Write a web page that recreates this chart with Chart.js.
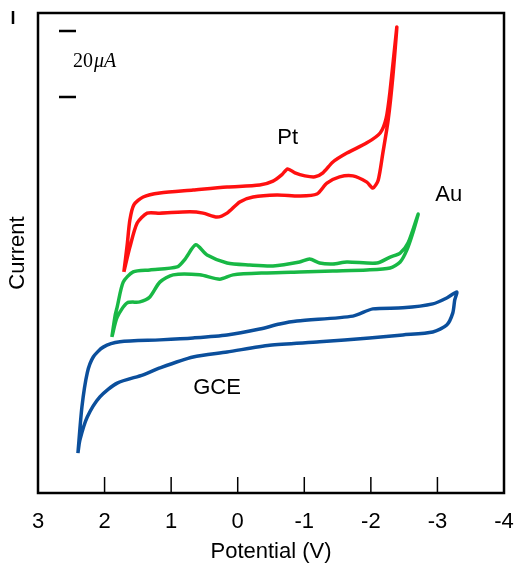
<!DOCTYPE html>
<html>
<head>
<meta charset="utf-8">
<script src="https://cdn.jsdelivr.net/npm/chart.js@4.4.1/dist/chart.umd.min.js"></script>
<style>
  html, body { margin: 0; padding: 0; background: #fff; }
  canvas { display: block; }
</style>
</head>
<body>
<canvas id="cvChart" width="516" height="571"></canvas>
<script>
// Voltametrias ciclicas: Pt, Au y GCE (corriente en uA)
var xTicks = [3, 2, 1, 0, -1, -2, -3, -4];

var ptPotential = [1.71, 1.66, 1.62, 1.56, 1.42, 1.17, 0.67, 0.16, -0.33, -0.53, -0.66, -0.75, -0.86, -1.01, -1.16, -1.28, -1.43, -1.64, -1.94, -2.14, -2.23, -2.29, -2.39,
                   -2.33, -2.26, -2.18, -2.11, -2.03, -1.94, -1.73, -1.53, -1.34, -1.19, -0.93, -0.59, -0.23, -0.03, 0.16, 0.31, 0.52, 0.72, 1.17, 1.36, 1.51, 1.62, 1.71];
var ptCurrent = [67.0, 75.2, 82.7, 87.3, 89.7, 90.9, 91.8, 92.7, 93.3, 94.5, 96.4, 98.2, 97.0, 96.1, 95.8, 97.0, 100.3, 103.0, 106.1, 109.1, 113.6, 122.1, 141.2,
                 126.1, 113.0, 103.0, 94.8, 92.4, 94.2, 96.1, 95.8, 93.9, 90.6, 90.0, 90.3, 89.7, 88.2, 84.8, 83.6, 84.8, 85.2, 84.8, 84.8, 81.8, 74.5, 67.0];

var auPotential = [1.89, 1.84, 1.81, 1.72, 1.57, 1.32, 0.91, 0.79, 0.63, 0.46, 0.16, -0.18, -0.53, -0.93, -1.08, -1.23, -1.43, -1.64, -2.09, -2.29, -2.44, -2.56, -2.71,
                   -2.63, -2.54, -2.44, -2.29, -1.94, -1.43, -0.93, -0.44, 0.07, 0.27, 0.57, 0.97, 1.17, 1.32, 1.47, 1.66, 1.81, 1.89];
var auCurrent = [47.3, 53.9, 56.4, 63.9, 67.0, 67.6, 68.5, 70.9, 75.2, 72.1, 69.7, 69.1, 68.8, 70.0, 70.9, 69.7, 69.4, 70.0, 69.7, 71.5, 72.7, 75.8, 84.5,
                 78.8, 73.6, 70.0, 68.2, 67.6, 67.3, 67.0, 66.7, 66.1, 64.8, 66.1, 66.1, 63.9, 59.4, 57.9, 57.6, 53.3, 47.3];

var gcePotential = [2.40, 2.34, 2.26, 2.17, 2.02, 1.77, 1.17, 0.67, 0.16, -0.33, -0.63, -0.89, -1.73, -2.03, -2.48, -2.93, -3.14, -3.29,
                    -3.26, -3.23, -3.14, -2.93, -2.48, -1.98, -1.23, -0.48, 0.16, 0.67, 1.17, 1.42, 1.81, 2.07, 2.26, 2.37, 2.40];
var gceCurrent = [12.1, 26.1, 36.4, 41.2, 44.2, 45.8, 46.4, 47.0, 47.9, 49.7, 51.2, 52.1, 53.6, 55.8, 56.1, 57.3, 59.1, 60.9,
                  58.5, 54.5, 50.9, 48.8, 47.9, 47.0, 45.8, 44.8, 42.7, 41.2, 37.9, 35.8, 33.3, 29.1, 23.0, 16.1, 12.1];

function toPoints(xs, ys) {
    return xs.map(function (x, i) { return { x: x, y: ys[i] }; });
}

var fontSans = '"Liberation Sans", Arial, sans-serif';

var decoPlugin = {
    id: 'deco',
    afterDraw: function (chart) {
        var ctx = chart.ctx, a = chart.chartArea, sx = chart.scales.x, sy = chart.scales.y;
        ctx.save();
        // marco
        ctx.strokeStyle = '#000';
        ctx.lineWidth = 2.5;
        ctx.strokeRect(a.left, a.top, a.right - a.left, a.bottom - a.top);
        // marcas internas del eje x
        ctx.lineWidth = 1.5;
        xTicks.forEach(function (t) {
            var px = sx.getPixelForValue(t);
            if (px <= a.left + 2 || px >= a.right - 2) return;
            ctx.beginPath();
            ctx.moveTo(px, a.bottom);
            ctx.lineTo(px, a.bottom - 16);
            ctx.stroke();
        });
        // marca suelta arriba a la izquierda
        ctx.lineWidth = 2.5;
        ctx.beginPath();
        ctx.moveTo(13, 11);
        ctx.lineTo(13, 24);
        ctx.stroke();
        // barra de escala 20 uA
        var y1 = sy.getPixelForValue(140), y2 = sy.getPixelForValue(120);
        ctx.lineWidth = 2.5;
        ctx.beginPath();
        ctx.moveTo(59, y1); ctx.lineTo(76, y1);
        ctx.moveTo(59, y2); ctx.lineTo(76, y2);
        ctx.stroke();
        ctx.fillStyle = '#000';
        ctx.textBaseline = 'alphabetic';
        ctx.textAlign = 'left';
        ctx.font = '20px "Liberation Serif", "Times New Roman", serif';
        ctx.fillText('20', 73, 67);
        var w = ctx.measureText('20').width;
        ctx.font = 'italic 20px "Liberation Serif", "Times New Roman", serif';
        ctx.fillText('\u03bcA', 73 + w + 1, 67);
        // etiquetas de las curvas
        ctx.font = '22px ' + fontSans;
        ctx.textAlign = 'center';
        ctx.textBaseline = 'middle';
        ctx.fillText('Pt', sx.getPixelForValue(-0.75), sy.getPixelForValue(107.6));
        ctx.fillText('Au', sx.getPixelForValue(-3.17), sy.getPixelForValue(90.3));
        ctx.fillText('GCE', sx.getPixelForValue(0.31), sy.getPixelForValue(31.8));
        ctx.restore();
    }
};

var chart = new Chart(document.getElementById('cvChart'), {
    type: 'scatter',
    data: {
        datasets: [{
            label: 'Pt',
            data: toPoints(ptPotential, ptCurrent),
            borderColor: '#ff1010'
        }, {
            label: 'Au',
            data: toPoints(auPotential, auCurrent),
            borderColor: '#18b845'
        }, {
            label: 'GCE',
            data: toPoints(gcePotential, gceCurrent),
            borderColor: '#0b4f9c'
        }]
    },
    options: {
        responsive: false,
        animation: false,
        devicePixelRatio: 1,
        layout: { padding: { top: 13, right: 12, left: 0, bottom: 0 } },
        elements: {
            line: { borderWidth: 3.5, tension: 0.25, fill: false },
            point: { radius: 0, hoverRadius: 0 }
        },
        datasets: { scatter: { showLine: true } },
        plugins: { legend: { display: false }, tooltip: { enabled: false } },
        scales: {
            x: {
                type: 'linear',
                reverse: true,
                min: -4,
                max: 3,
                grid: { display: false, drawTicks: false },
                border: { display: false },
                ticks: {
                    stepSize: 1,
                    padding: 16,
                    color: '#000',
                    font: { family: fontSans, size: 22 }
                },
                title: {
                    display: true,
                    text: 'Potential (V)',
                    color: '#000',
                    font: { family: fontSans, size: 22 },
                    padding: { top: 0, bottom: 6 }
                },
                afterFit: function (s) {
                    s.height = 78;
                    s.paddingLeft = 0;
                    s.paddingRight = 0;
                }
            },
            y: {
                type: 'linear',
                min: 0,
                max: 145.45,
                grid: { display: false, drawTicks: false },
                border: { display: false },
                ticks: { display: false },
                title: {
                    display: true,
                    text: 'Current',
                    color: '#000',
                    font: { family: fontSans, size: 22 },
                    padding: { top: 5, bottom: 0 }
                },
                afterFit: function (s) { s.width = 38; }
            }
        }
    },
    plugins: [decoPlugin]
});
</script>
</body>
</html>
